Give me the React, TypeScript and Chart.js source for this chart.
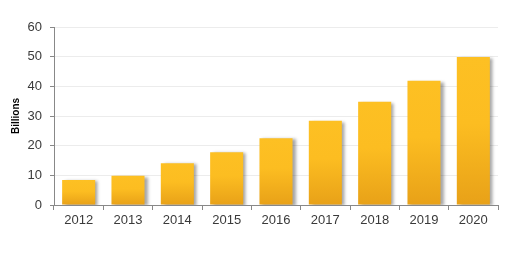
import React, { useEffect, useRef } from "react";
import { Chart, registerables } from "chart.js";

Chart.register(...registerables);

const categories = ["2012", "2013", "2014", "2015", "2016", "2017", "2018", "2019", "2020"];
const values = [8.4, 9.9, 14.1, 17.8, 22.5, 28.4, 34.8, 41.9, 49.9];
const yTitle = "Billions";

const shadowPlugin = {
  id: "barShadow",
  beforeDatasetDraw(chart: any) {
    const ctx = chart.ctx;
    ctx.save();
    ctx.shadowColor = "rgba(0,0,0,0.35)";
    ctx.shadowBlur = 3;
    ctx.shadowOffsetX = 3;
    ctx.shadowOffsetY = 1;
  },
  afterDatasetDraw(chart: any) {
    chart.ctx.restore();
  },
};

export default function App() {
  const ref = useRef<HTMLCanvasElement | null>(null);

  useEffect(() => {
    document.body.style.margin = "0";
    const canvas = ref.current;
    if (!canvas) return;
    const chart = new Chart(canvas, {
      type: "bar",
      data: {
        labels: categories,
        datasets: [
          {
            data: values,
            backgroundColor: (c: any) => {
              const ch = c.chart;
              const y = ch.scales && ch.scales.y;
              if (!y || !ch.chartArea || c.dataIndex === undefined) return "#FCBD22";
              const top = y.getPixelForValue(values[c.dataIndex]);
              const bottom = y.getPixelForValue(0);
              if (!isFinite(top) || !isFinite(bottom) || bottom - top < 1) return "#FCBD22";
              const g = ch.ctx.createLinearGradient(0, top, 0, bottom);
              g.addColorStop(0, "#FDC023");
              g.addColorStop(0.45, "#FCBD21");
              g.addColorStop(1, "#E8A118");
              return g;
            },
            borderWidth: 0,
            barPercentage: 0.67,
            categoryPercentage: 1,
          },
        ],
      },
      options: {
        animation: false,
        responsive: false,
        maintainAspectRatio: false,
        layout: { padding: { left: 0, right: 25, top: 27, bottom: 35 } },
        plugins: {
          legend: { display: false },
          tooltip: { enabled: false },
        },
        scales: {
          x: {
            offset: true,
            grid: {
              offset: true,
              drawOnChartArea: false,
              drawTicks: true,
              tickLength: 5,
              color: "#888",
            },
            border: { color: "#888", width: 1 },
            ticks: {
              color: "#3a3a3a",
              font: { family: "Liberation Sans, Arial, sans-serif", size: 13 },
              padding: 3,
              maxRotation: 0,
            },
            afterFit: (s: any) => {
              s.height = 31;
            },
          },
          y: {
            min: 0,
            max: 60,
            ticks: {
              stepSize: 10,
              color: "#3a3a3a",
              font: { family: "Liberation Sans, Arial, sans-serif", size: 13 },
              padding: 8,
            },
            grid: {
              color: "#ececec",
              tickColor: "#888",
              tickLength: 4,
            },
            border: { color: "#888", width: 1 },
            title: {
              display: true,
              text: yTitle,
              color: "#000",
              font: { family: "Liberation Sans, Arial, sans-serif", size: 10, weight: "bold" },
              padding: { top: 10, bottom: 0 },
            },
            afterFit: (s: any) => {
              s.width = 54;
            },
          },
        },
      },
      plugins: [shadowPlugin],
    });
    return () => chart.destroy();
  }, []);

  return (
    <div style={{ width: 523, height: 271, background: "#fff" }}>
      <canvas ref={ref} width={523} height={271} style={{ display: "block" }} />
    </div>
  );
}
